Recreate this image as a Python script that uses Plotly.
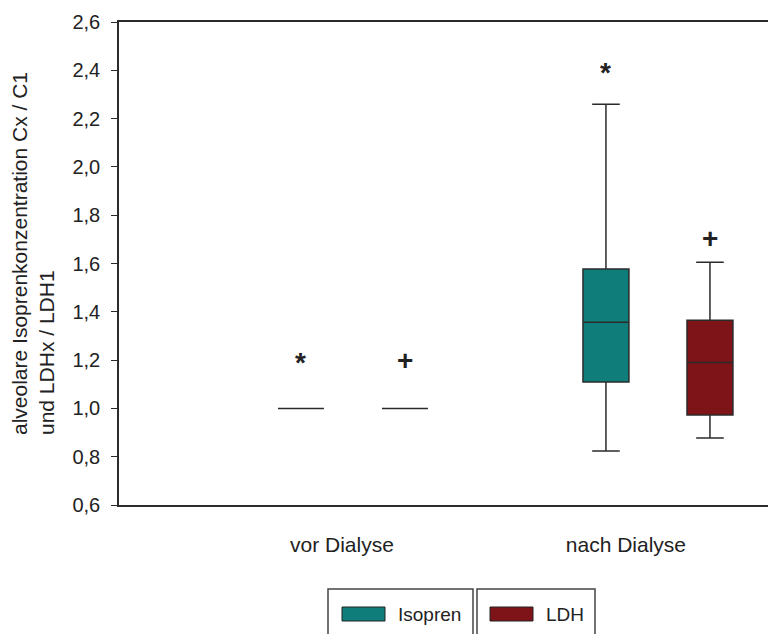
import plotly.graph_objects as go

# ---- data ----
groups = ["vor Dialyse", "nach Dialyse"]
group_pos = [1, 2]
label_pos = [0.964, 1.895]          # where the category labels sit
series_names = ["Isopren", "LDH"]
series_colors = ["#0F7E7B", "#7F1418"]

iso_lower = [1.0, 0.824]
iso_q1 = [1.0, 1.109]
iso_median = [1.0, 1.357]
iso_q3 = [1.0, 1.577]
iso_upper = [1.0, 2.259]

ldh_lower = [1.0, 0.877]
ldh_q1 = [1.0, 0.973]
ldh_median = [1.0, 1.19]
ldh_q3 = [1.0, 1.365]
ldh_upper = [1.0, 1.605]

iso_sig_y = [1.19, 2.39]
ldh_sig_y = [1.20, 1.705]
sig_symbols = ["*", "+"]

y_ticks = [0.6, 0.8, 1.0, 1.2, 1.4, 1.6, 1.8, 2.0, 2.2, 2.4, 2.6]

# ---- layout constants (page pixels; the page body adds an 8px offset) ----
OFF = 8
W, H = 776, 634
PL, PR, PT, PB = 119, 776, 22, 505          # plot area on the page
ML, MT = PL - OFF, PT - OFF
MR = W + OFF - PR
MB = H + OFF - PB
PW, PH = PR - PL, PB - PT
FONT = "Liberation Sans, Arial, sans-serif"
LINE = "#2b2b2b"

boxgap, boxgroupgap = 0.318, 0.558
slot = (1 - boxgap) / 2
offsets = [-slot / 2, slot / 2]

fig = go.Figure()
stats = [
    (iso_lower, iso_q1, iso_median, iso_q3, iso_upper),
    (ldh_lower, ldh_q1, ldh_median, ldh_q3, ldh_upper),
]
for name, color, (lo, q1, med, q3, up) in zip(series_names, series_colors, stats):
    fig.add_trace(go.Box(
        name=name, x=group_pos, lowerfence=lo, q1=q1, median=med, q3=q3, upperfence=up,
        fillcolor=color, line=dict(color=LINE, width=1.5), whiskerwidth=0.6,
        boxpoints=False, showlegend=False, hoverinfo="skip",
    ))

annotations = []
for sig_y, sym, off in zip([iso_sig_y, ldh_sig_y], sig_symbols, offsets):
    for gx, yv in zip(group_pos, sig_y):
        annotations.append(dict(
            x=gx + off, y=yv, xref="x", yref="y", text="<b>%s</b>" % sym, showarrow=False,
            font=dict(family=FONT, size=28, color="#222"),
            xanchor="center", yanchor="middle",
        ))


def px2x(px):
    return (px - PL) / PW


def py2y(py):
    return (PB - py) / PH


# y-axis title (two lines, left aligned -> bottom aligned when rotated)
annotations.append(dict(
    x=px2x(33), y=py2y(254), xref="paper", yref="paper",
    text="alveolare Isoprenkonzentration Cx / C1<br>und LDHx / LDH1",
    textangle=-90, align="left", showarrow=False,
    font=dict(family=FONT, size=21, color="#222"), xanchor="center", yanchor="middle",
))

shapes = []
legend_boxes = [(328, 473), (477, 595)]
swatches = [(342, 385), (490, 533)]
text_x = [396, 544]
for (bx0, bx1), (sx0, sx1), tx, name, color in zip(legend_boxes, swatches, text_x, series_names, series_colors):
    shapes.append(dict(type="rect", xref="paper", yref="paper",
                       x0=px2x(bx0), x1=px2x(bx1), y0=py2y(650), y1=py2y(589),
                       line=dict(color="#444", width=1.5), fillcolor="rgba(0,0,0,0)"))
    shapes.append(dict(type="rect", xref="paper", yref="paper",
                       x0=px2x(sx0), x1=px2x(sx1), y0=py2y(621), y1=py2y(607),
                       line=dict(color="#222", width=1), fillcolor=color))
    annotations.append(dict(x=px2x(tx), y=py2y(614), xref="paper", yref="paper",
                            text=name, showarrow=False, xanchor="left", yanchor="middle",
                            font=dict(family=FONT, size=19, color="#222")))

fig.update_layout(
    width=W, height=H,
    margin=dict(l=ML, r=MR, t=MT, b=MB, autoexpand=False),
    paper_bgcolor="white", plot_bgcolor="white",
    boxmode="group", boxgap=boxgap, boxgroupgap=boxgroupgap,
    separators=",.",
    font=dict(family=FONT, size=21, color="#222"),
    annotations=annotations, shapes=shapes,
    showlegend=False,
)
fig.update_xaxes(
    range=[px2x(PL) * 0 + 0.233, 2.387], tickvals=label_pos, ticktext=groups,
    ticks="", showgrid=False, zeroline=False,
    showline=True, linecolor=LINE, linewidth=1.5, mirror=True,
    ticklabelstandoff=20, tickfont=dict(size=21),
)
fig.update_yaxes(
    range=[0.6, 2.6], tickvals=y_ticks, tickformat=".1f",
    ticks="outside", ticklen=6, tickcolor=LINE, tickwidth=1.2,
    showgrid=False, zeroline=False,
    showline=True, linecolor=LINE, linewidth=1.5, mirror=False,
    ticklabelstandoff=7, tickfont=dict(size=20),
)

fig.write_html("out.html")
